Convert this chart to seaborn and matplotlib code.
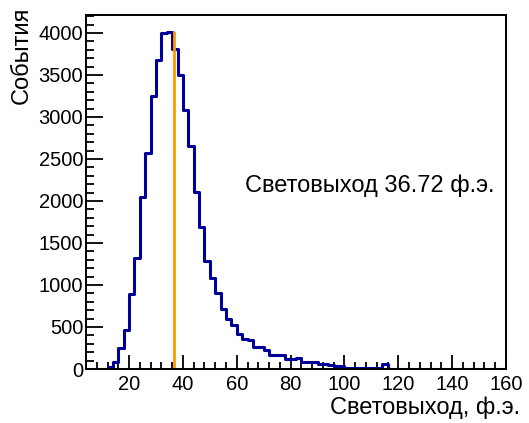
import numpy as np
import pandas as pd
import matplotlib
matplotlib.use("Agg")
import matplotlib.pyplot as plt
import seaborn as sns
from matplotlib.ticker import MultipleLocator

# Histogram: bins of 2 ph.e. from 4 to 160
bin_edges = list(range(4, 162, 2))
counts = [0, 0, 0, 2, 27, 87, 254, 460, 893, 1318,
          2051, 2568, 3254, 3679, 3996, 4013, 3806, 3500, 3083, 2655,
          2111, 1694, 1290, 1087, 901, 720, 591, 524, 417, 357,
          345, 266, 266, 226, 167, 167, 165, 115, 115, 125,
          87, 85, 80, 56, 55, 50, 36, 30, 15, 12,
          12, 10, 10, 8, 8, 55, 5, 4, 3, 3,
          2, 2, 2, 1, 1, 1, 1, 1, 1, 1,
          0, 1, 0, 0, 0, 0, 0, 0]
light_yield = 36.72
xlabel_text = "Световыход, ф.э."
ylabel_text = "События"
annot_text = "Световыход 36.72 ф.э."

centers = [(bin_edges[i] + bin_edges[i + 1]) / 2 for i in range(len(counts))]
df = pd.DataFrame({"x": centers, "w": counts})

sns.set_style("white")
plt.rcParams["font.family"] = ["Liberation Sans", "DejaVu Sans"]
plt.rcParams["text.color"] = "black"
plt.rcParams["xtick.color"] = "black"
plt.rcParams["ytick.color"] = "black"

fig = plt.figure(figsize=(5.29, 4.23), dpi=100)
ax = fig.add_axes([86 / 529, 1 - 369 / 423, (506 - 86) / 529, (369 - 15) / 423])

sns.histplot(data=df, x="x", weights="w", bins=bin_edges, element="step",
             fill=False, color="#000099", linewidth=2.2, ax=ax)

ymax = max(counts)
ax.plot([light_yield, light_yield], [0, ymax], color="#FF9900", linewidth=2.0)

ax.set_xlim(4, 160)
ax.set_ylim(0, ymax * 1.05)
ax.set_xlabel("")
ax.set_ylabel("")

ax.xaxis.set_major_locator(MultipleLocator(20))
ax.xaxis.set_minor_locator(MultipleLocator(4))
ax.yaxis.set_major_locator(MultipleLocator(500))
ax.yaxis.set_minor_locator(MultipleLocator(100))
ax.tick_params(axis="both", which="both", direction="in", top=False, right=False,
               bottom=True, left=True, color="black", width=1.3)
ax.tick_params(axis="x", which="major", length=10, pad=4, labelsize=14.5)
ax.tick_params(axis="x", which="minor", length=5)
ax.tick_params(axis="y", which="major", length=12, pad=2, labelsize=14.5)
ax.tick_params(axis="y", which="minor", length=6)
for sp in ax.spines.values():
    sp.set_color("black")
    sp.set_linewidth(1.4)

ax.text(63.0, 2179, annot_text, ha="left", va="center", fontsize=17)
fig.text(520 / 529, 1 - 408 / 423, xlabel_text, ha="right", va="center", fontsize=17)
fig.text(22 / 529, 1 - 7 / 423, ylabel_text, ha="center", va="top", rotation=90, fontsize=17)

fig.savefig("out.png", dpi=100, facecolor="white")
